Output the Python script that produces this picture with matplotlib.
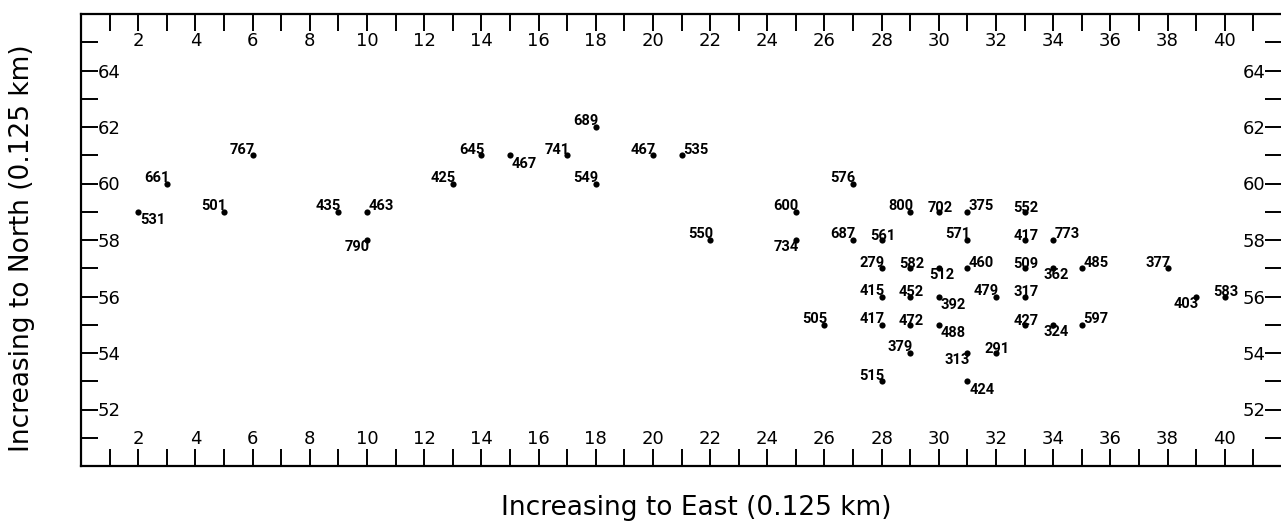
import numpy as np
import matplotlib.pyplot as plt
from matplotlib.ticker import MultipleLocator

# station grid positions (0.125 km units) and their id labels
east = [2, 3, 5, 6, 9, 10, 10, 13, 14, 15, 17, 18, 18, 20, 21, 22,
        25, 25, 27, 27, 28, 29, 30, 31, 33, 31, 33, 34,
        28, 29, 30, 31, 33, 34, 35, 38,
        28, 29, 30, 32, 33, 39, 40,
        26, 28, 29, 30, 33, 34, 35,
        29, 31, 32, 28, 31]
north = [59, 60, 59, 61, 59, 59, 58, 60, 61, 61, 61, 62, 60, 61, 61, 58,
         59, 58, 60, 58, 58, 59, 59, 59, 59, 58, 58, 58,
         57, 57, 57, 57, 57, 57, 57, 57,
         56, 56, 56, 56, 56, 56, 56,
         55, 55, 55, 55, 55, 55, 55,
         54, 54, 54, 53, 53]
ids = ['531', '661', '501', '767', '435', '463', '790', '425', '645', '467',
       '741', '689', '549', '467', '535', '550',
       '600', '734', '576', '687', '561', '800', '702', '375', '552', '571',
       '417', '773',
       '279', '582', '512', '460', '509', '362', '485', '377',
       '415', '452', '392', '479', '317', '403', '583',
       '505', '417', '472', '488', '427', '324', '597',
       '379', '313', '291', '515', '424']
# where each label sits relative to its dot
where = ['lr', 'ul', 'ul', 'ul', 'ul', 'ur', 'll', 'ul', 'ul', 'lr',
         'ul', 'ul', 'ul', 'ul', 'ur', 'ul',
         'ul', 'll', 'ul', 'ul', 'c', 'ul', 'c', 'ur', 'c', 'ul',
         'c', 'ur',
         'ul', 'c', 'b', 'ur', 'c', 'b', 'ur', 'ul',
         'ul', 'c', 'lr', 'ul', 'c', 'll', 'c',
         'ul', 'ul', 'c', 'lr', 'c', 'b', 'ur',
         'ul', 'll', 'c', 'ul', 'lr']

xticks = np.arange(2, 41, 2)
yticks = np.arange(52, 65, 2)

place = {
    'ul': ('right', 'bottom', (2, -1)),
    'ur': ('left', 'bottom', (1, -1)),
    'lr': ('left', 'top', (1.5, -1)),
    'll': ('right', 'top', (2, 0)),
    'c': ('center', 'bottom', (1, -2)),
    'b': ('center', 'top', (2, 0)),
}

fig = plt.figure(figsize=(12.81, 5.25), dpi=100)
ax = fig.add_axes([81 / 1281, 1 - 466 / 525, 1201 / 1281, 452 / 525])

ax.scatter(east, north, s=20, color='black', zorder=3, linewidths=0)
for x, y, t, w in zip(east, north, ids, where):
    ha, va, off = place[w]
    ax.annotate(t, (x, y), xytext=off, textcoords='offset points',
                ha=ha, va=va, fontsize=10.5, fontweight='bold',
                family='Roboto', zorder=2)

ax.set_xlim(0, 42)
ax.set_ylim(50, 66)
ax.set_xticks(xticks)
ax.set_yticks(yticks)
ax.xaxis.set_minor_locator(MultipleLocator(2, offset=1))
ax.yaxis.set_minor_locator(MultipleLocator(2, offset=1))

for s in ax.spines.values():
    s.set_linewidth(1.6)
ax.spines['right'].set_visible(False)

ax.tick_params(which='both', direction='in', length=12, width=1.4,
               top=True, bottom=True, left=True, right=True)
ax.tick_params(axis='x', which='major', labeltop=True, labelbottom=True,
               labelsize=13, pad=-13)
ax.tick_params(axis='y', which='major', labelleft=True, labelright=True,
               labelsize=13, pad=-12)

for tk in ax.xaxis.get_major_ticks():
    tk.label1.set_va('bottom')
    tk.label2.set_va('top')
for tk in ax.yaxis.get_major_ticks():
    tk.label1.set_ha('left')
    tk.label2.set_ha('right')

ax.set_xlabel('Increasing to East (0.125 km)', fontsize=19)
ax.set_ylabel('Increasing to North (0.125 km)', fontsize=19)
ax.xaxis.set_label_coords(0.512, -0.064)
ax.yaxis.set_label_coords(-0.038, 0.482)

fig.savefig('out.png', dpi=100)
